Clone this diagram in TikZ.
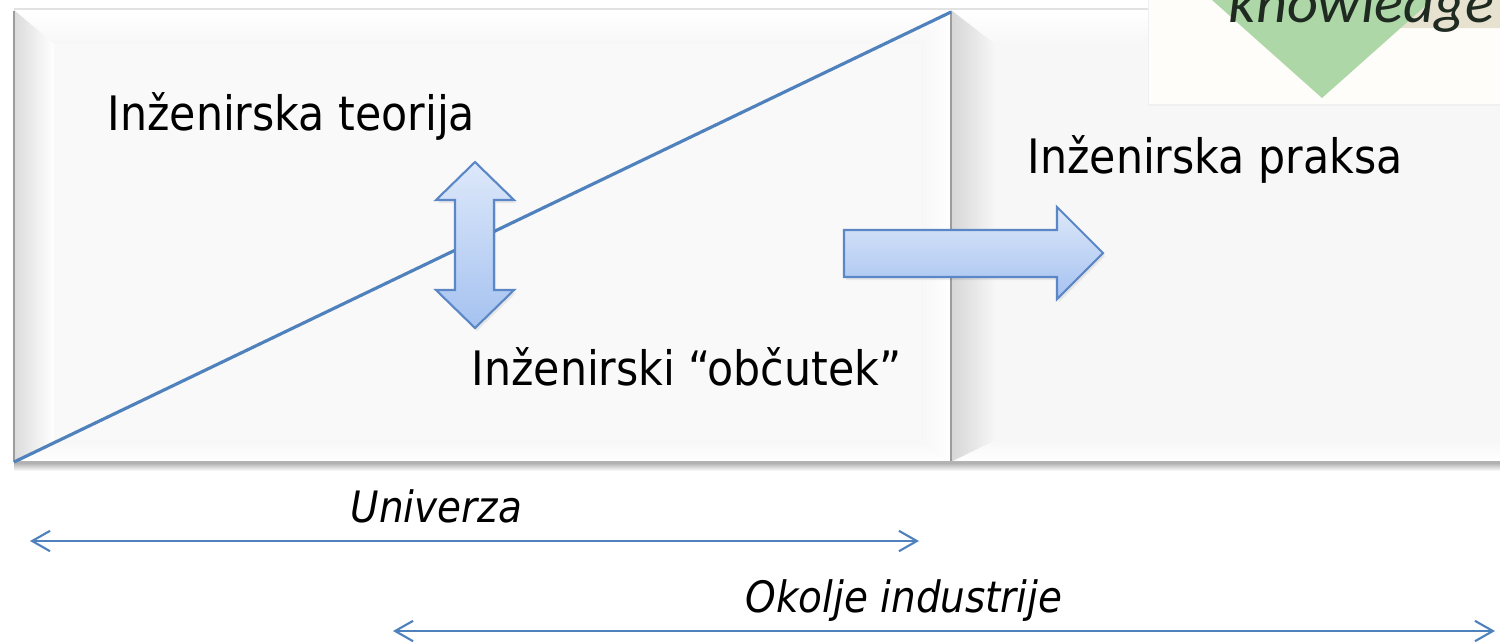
\documentclass[tikz,border=0pt]{standalone}
\usepackage{fontspec}
\setmainfont{DejaVu Sans Condensed}[ItalicFont={DejaVu Sans Condensed Oblique},BoldFont={DejaVu Sans Condensed Bold}]
\newfontfamily\kfont{Carlito}[ItalicFont={Carlito Italic}]
\usetikzlibrary{arrows.meta}
\definecolor{lineblue}{HTML}{4F81BD}
\definecolor{arrtop}{HTML}{DDE8FA}
\definecolor{arrbot}{HTML}{A5C2F0}
\definecolor{arrline}{HTML}{5B87C6}
\definecolor{face}{HTML}{F7F7F7}
\definecolor{edgedark}{HTML}{9C9C9C}
\definecolor{edgelight}{HTML}{E2E2E2}
\definecolor{imgbg}{HTML}{FFFDF9}
\definecolor{leafgreen}{HTML}{AED7A8}
\definecolor{sand}{HTML}{E7E1D0}
\definecolor{inkdark}{HTML}{1F2A20}
\tikzset{
  lbl/.style={anchor=base west, inner sep=0pt, text=black,
    font=\fontsize{13.5pt}{16pt}\selectfont},
  ilbl/.style={lbl, font=\fontsize{12.3pt}{15pt}\selectfont\itshape},
  diag/.style={draw=lineblue, line width=0.9pt},
  dimarrow/.style={draw=lineblue, line width=0.6pt,
    {Straight Barb[length=5.1pt,width=5.8pt,line width=0.6pt]}-{Straight Barb[length=5.1pt,width=5.8pt,line width=0.6pt]}},
  blockarrow/.style={top color=arrtop, bottom color=arrbot, draw=arrline,
    line width=0.6pt, line join=miter},
  arrowshadow/.style={fill=black, opacity=0.07},
}
\begin{document}
\begin{tikzpicture}[x=0.01cm,y=-0.01cm]
\useasboundingbox (0,0) rectangle (1500,641);
\fill[white] (0,0) rectangle (1500,641);

% ---- soft shadow under both panels
\shade[top color=black!38, bottom color=white] (14,461) rectangle (1500,471);

% ---- left bevelled panel: Univerza
\fill[face] (14,10) rectangle (951,462);
\shade[top color=white, bottom color=face] (14,10) -- (951,10) -- (921,44) -- (54,44) -- cycle;
\shade[left color=black!14, right color=white] (14,10) -- (54,44) -- (54,440) -- (14,462) -- cycle;
\shade[left color=face, right color=white] (921,44) -- (951,10) -- (951,462) -- (921,440) -- cycle;
\shade[top color=face, bottom color=white] (54,440) -- (921,440) -- (951,462) -- (14,462) -- cycle;
\fill[face!70!white] (54,44) rectangle (921,440);
\draw[edgedark, line width=0.8pt] (14,11) -- (14,462);
\draw[edgelight, line width=0.5pt] (14,9) -- (1148,9);

% ---- right bevelled panel: industry
\fill[face] (951,10) rectangle (1500,462);
\shade[top color=white, bottom color=face] (951,10) -- (1500,10) -- (1500,45) -- (996,45) -- cycle;
\shade[left color=black!16, right color=face] (951,10) -- (996,45) -- (996,440) -- (951,462) -- cycle;
\shade[top color=face, bottom color=white] (996,440) -- (1500,440) -- (1500,462) -- (951,462) -- cycle;
\draw[edgedark, line width=0.8pt] (951,11) -- (951,462);
\draw[black!30, line width=0.6pt] (14,462) -- (1500,462);

% ---- picture fragment in the top right corner
\begin{scope}
  \clip (1148,0) rectangle (1500,105);
  \fill[imgbg] (1148,0) rectangle (1500,105);
  \fill[sand] (1432,0) -- (1500,0) -- (1500,28) -- (1400,28) -- cycle;
  \fill[leafgreen] (1212,0) -- (1432,0) -- (1322,98) -- cycle;
  \node[anchor=base west, inner sep=0pt, text=inkdark] (knw) at (1228,22)
    {\scalebox{1.04}[1]{\kfont\itshape\fontsize{16.5pt}{19pt}\selectfont knowledge}};
  \draw[black!6, line width=0.5pt] (1148.5,0) -- (1148.5,105) -- (1500,105);
\end{scope}

% ---- diagonal dividing theory from intuition
\coordinate (bl) at (14,462);
\coordinate (tr) at (951,12);
\draw[diag] (bl) -- (tr);

% ---- block arrows
\fill[arrowshadow] (477,165) -- (516,203) -- (496,203) -- (496,293) -- (516,293) -- (477,331) -- (438,293) -- (457,293) -- (457,203) -- (438,203) -- cycle;
\shade[blockarrow] (475,162) -- (514,200) -- (494,200) -- (494,290) -- (514,290) -- (475,328) -- (436,290) -- (455,290) -- (455,200) -- (436,200) -- cycle;
\fill[arrowshadow] (846,233) -- (1059,233) -- (1059,210) -- (1105,256) -- (1059,302) -- (1059,280) -- (846,280) -- cycle;
\shade[blockarrow] (844,230) -- (1057,230) -- (1057,207) -- (1103,253) -- (1057,299) -- (1057,277) -- (844,277) -- cycle;

% ---- labels
\node[lbl] (teorija) at (107,130) {Inženirska teorija};
\node[lbl] (praksa) at (1027,173) {Inženirska praksa};
\node[lbl] (obcutek) at (471,385) {Inženirski “občutek”};
\node[ilbl] (univerza) at (350,522) {Univerza};
\node[ilbl] (okolje) at (745,612) {Okolje industrije};

% ---- extent arrows
\coordinate (uniL) at (30,541);
\coordinate (uniR) at (919,541);
\coordinate (indL) at (393,631);
\coordinate (indR) at (1495,631);
\draw[dimarrow] (uniL) -- (uniR);
\draw[dimarrow] (indL) -- (indR);
\end{tikzpicture}
\end{document}
